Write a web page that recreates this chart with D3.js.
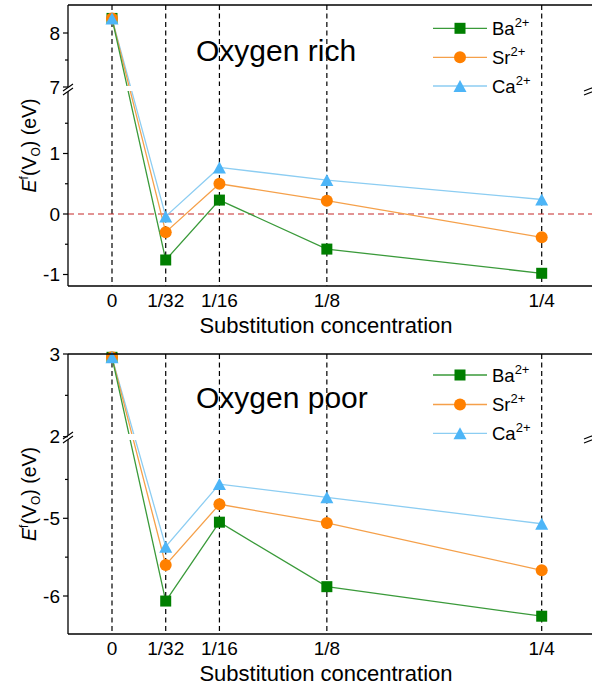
<!DOCTYPE html>
<html><head><meta charset="utf-8">
<script src="https://cdn.jsdelivr.net/npm/d3@7"></script>
<style>html,body{margin:0;padding:0;background:#fff;} svg{display:block;}</style>
</head><body>
<svg id="chart" width="592" height="686"></svg>
<script>
// ---- data ----
const categories = ["0", "1/32", "1/16", "1/8", "1/4"];
const xValues = [0, 1/32, 1/16, 1/8, 1/4];
const seriesNames = ["Ba", "Sr", "Ca"];
const richBa = [8.27, -0.76, 0.23, -0.58, -0.98];
const richSr = [8.27, -0.30, 0.50, 0.22, -0.385];
const richCa = [8.27, -0.04, 0.77, 0.56, 0.24];
const poorBa = [2.96, -6.065, -5.05, -5.88, -6.26];
const poorSr = [2.96, -5.60, -4.82, -5.06, -5.67];
const poorCa = [2.96, -5.365, -4.56, -4.73, -5.07];
const richUpperTicks = [8, 7], richUpperMinor = [7.5];
const richLowerTicks = [1, 0, -1], richLowerMinor = [1.5, 0.5, -0.5];
const poorUpperTicks = [3, 2], poorUpperMinor = [2.5];
const poorLowerTicks = [-5, -6], poorLowerMinor = [-4.5, -5.5];
const panelTitles = ["Oxygen rich", "Oxygen poor"];
const xTitle = "Substitution concentration";

const colors = {
  Ba: {fill: "#007F00", line: "#3A9A3A"},
  Sr: {fill: "#FF8000", line: "#F5A04A"},
  Ca: {fill: "#4DB5F7", line: "#8CCDF2"}
};
const FONT = "'Liberation Sans', Arial, sans-serif";
const svg = d3.select("#chart");
const xScale = d3.scaleLinear().domain([0, 0.25]).range([112, 541.7]);
const leftX = 68, rightX = 593;

const panels = [
  {top: 5, bottom: 286, breakY: 89, gapTop: 86, gapBot: 91, breakValue: 4,
   upper: d3.scaleLinear().domain([7, 8]).range([87, 33]),
   lower: d3.scaleLinear().domain([0, 1]).range([214, 153.5]),
   uT: richUpperTicks, uM: richUpperMinor, lT: richLowerTicks, lM: richLowerMinor,
   series: {Ba: richBa, Sr: richSr, Ca: richCa}, zeroLine: true,
   title: panelTitles[0], titleY: 61, legendY: [28.3, 57.3, 86]},
  {top: 354, bottom: 634, breakY: 437, gapTop: 434, gapBot: 440, breakValue: 0,
   upper: d3.scaleLinear().domain([2, 3]).range([436.7, 354]),
   lower: d3.scaleLinear().domain([-5, -6]).range([518.3, 596]),
   uT: poorUpperTicks, uM: poorUpperMinor, lT: poorLowerTicks, lM: poorLowerMinor,
   series: {Ba: poorBa, Sr: poorSr, Ca: poorCa}, zeroLine: false,
   title: panelTitles[1], titleY: 408, legendY: [375, 404.5, 433.3]}
];

function marker(g, name, cx, cy) {
  const c = colors[name];
  if (name === "Ba") {
    g.append("rect").attr("x", cx - 5.5).attr("y", cy - 5.5).attr("width", 11).attr("height", 11)
      .attr("fill", c.fill);
  } else if (name === "Sr") {
    g.append("circle").attr("cx", cx).attr("cy", cy).attr("r", 6).attr("fill", c.fill);
  } else {
    const w = 13, h = 12;
    g.append("path").attr("d", `M${cx},${cy - h/2}L${cx + w/2},${cy + h/2}L${cx - w/2},${cy + h/2}Z`)
      .attr("fill", c.fill);
  }
}

panels.forEach(p => {
  const g = svg.append("g");
  const yv = v => v > p.breakValue ? p.upper(v) : p.lower(v);

  // vertical dashed guide lines
  g.selectAll("line.vg").data(xValues).join("line")
    .attr("x1", d => xScale(d)).attr("x2", d => xScale(d))
    .attr("y1", p.top).attr("y2", p.bottom)
    .attr("stroke", "#000").attr("stroke-width", 1.2).attr("stroke-dasharray", "5,3.5");

  if (p.zeroLine) {
    g.append("line").attr("x1", leftX).attr("x2", rightX)
      .attr("y1", p.lower(0)).attr("y2", p.lower(0))
      .attr("stroke", "#C62828").attr("stroke-width", 1.1).attr("stroke-dasharray", "6,4");
  }

  // series lines
  const line = d3.line().x((d, i) => xScale(xValues[i])).y(d => yv(d));
  ["Ca", "Sr", "Ba"].forEach(name => {
    g.append("path").datum(p.series[name]).attr("d", line)
      .attr("fill", "none").attr("stroke", colors[name].line).attr("stroke-width", 1.3);
  });

  // break gap
  g.append("rect").attr("x", leftX + 1).attr("y", p.gapTop).attr("width", rightX - leftX - 2)
    .attr("height", p.gapBot - p.gapTop).attr("fill", "#fff");

  // markers
  ["Ba", "Sr", "Ca"].forEach(name => {
    p.series[name].forEach((v, i) => marker(g, name, xScale(xValues[i]), yv(v)));
  });

  // axes frame
  const ax = g.append("g").attr("stroke", "#000").attr("stroke-width", 1.3);
  ax.append("line").attr("x1", leftX).attr("x2", rightX).attr("y1", p.top).attr("y2", p.top);
  ax.append("line").attr("x1", leftX).attr("x2", rightX).attr("y1", p.bottom).attr("y2", p.bottom);
  ax.append("line").attr("x1", leftX).attr("x2", leftX).attr("y1", p.top).attr("y2", p.gapTop + 1);
  ax.append("line").attr("x1", leftX).attr("x2", leftX).attr("y1", p.gapBot - 1).attr("y2", p.bottom);
  ax.append("line").attr("x1", rightX).attr("x2", rightX).attr("y1", p.top).attr("y2", p.gapTop + 1);
  ax.append("line").attr("x1", rightX).attr("x2", rightX).attr("y1", p.gapBot - 1).attr("y2", p.bottom);

  // break marks
  [[leftX, 5], [rightX, 9]].forEach(([bx, hw]) => {
    g.append("path").attr("d", `M${bx - hw},${p.breakY + 2}L${bx + hw},${p.breakY - 5}L${bx + hw},${p.breakY - 1}L${bx - hw},${p.breakY + 6}Z`)
      .attr("fill", "#fff");
    g.append("path").attr("d", `M${bx - hw},${p.breakY + 2}L${bx + hw},${p.breakY - 5}M${bx - hw},${p.breakY + 6}L${bx + hw},${p.breakY - 1}`)
      .attr("stroke", "#000").attr("stroke-width", 1.1).attr("fill", "none");
  });

  // y ticks
  const ticks = [];
  p.uT.forEach(v => ticks.push({y: p.upper(v), v, major: true}));
  p.uM.forEach(v => ticks.push({y: p.upper(v), v, major: false}));
  p.lT.forEach(v => ticks.push({y: p.lower(v), v, major: true}));
  p.lM.forEach(v => ticks.push({y: p.lower(v), v, major: false}));
  g.selectAll("line.yt").data(ticks).join("line")
    .attr("x1", d => leftX - (d.major ? 5 : 3)).attr("x2", leftX)
    .attr("y1", d => d.y).attr("y2", d => d.y)
    .attr("stroke", "#000").attr("stroke-width", 1.2);
  g.selectAll("text.yl").data(ticks.filter(d => d.major)).join("text")
    .attr("x", 60).attr("y", d => d.y + 6.5).attr("text-anchor", "end")
    .attr("font-family", FONT).attr("font-size", 19).attr("fill", "#000")
    .text(d => d.v);

  // x tick labels
  g.selectAll("text.xl").data(categories).join("text")
    .attr("x", (d, i) => xScale(xValues[i])).attr("y", p.bottom + 21)
    .attr("text-anchor", "middle").attr("font-family", FONT).attr("font-size", 19)
    .text(d => d);
  g.append("text").attr("x", 326).attr("y", p.bottom + 47).attr("text-anchor", "middle")
    .attr("font-family", FONT).attr("font-size", 22).text(xTitle);

  // y title
  const cy = (p.top + p.bottom) / 2;
  const yt = g.append("text").attr("transform", `translate(36,${cy}) rotate(-90)`)
    .attr("text-anchor", "middle").attr("font-family", FONT).attr("font-size", 19.5);
  yt.append("tspan").attr("font-style", "italic").text("E");
  yt.append("tspan").attr("font-size", 12).attr("dy", -8).text("f");
  yt.append("tspan").attr("dy", 8).text("(V");
  yt.append("tspan").attr("font-size", 12).attr("dy", 4).text("O");
  yt.append("tspan").attr("dy", -4).text(") (eV)");

  // panel title
  g.append("text").attr("x", 196).attr("y", p.titleY).attr("font-family", FONT)
    .attr("font-size", 30).text(p.title);

  // legend
  seriesNames.forEach((name, i) => {
    const ly = p.legendY[i];
    g.append("line").attr("x1", 433).attr("x2", 487).attr("y1", ly).attr("y2", ly)
      .attr("stroke", colors[name].line).attr("stroke-width", 1.3);
    marker(g, name, 460, ly);
    const t = g.append("text").attr("x", 492).attr("y", ly + 6.5)
      .attr("font-family", FONT).attr("font-size", 18.5);
    t.append("tspan").text(name);
    t.append("tspan").attr("font-size", 13).attr("dy", -8).text("2+");
  });
});
</script>
</body></html>
